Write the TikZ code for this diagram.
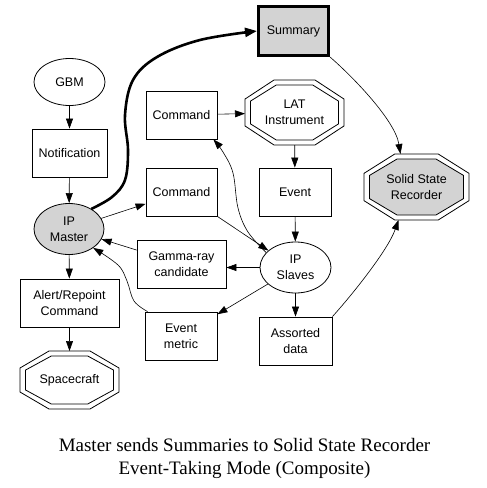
\documentclass[tikz,border=0pt]{standalone}
\usepackage{fontspec}
\setmainfont{Liberation Sans}
\newfontfamily\capfont{Liberation Serif}
\usetikzlibrary{arrows.meta,shapes.geometric,calc}
\definecolor{gv}{RGB}{211,211,211}
\newcommand\octdraw[2]{\draw[#1] ($(#2.west)!.414!(#2.north west)$) -- ($(#2.north)!.414!(#2.north west)$) -- ($(#2.north)!.414!(#2.north east)$) -- ($(#2.east)!.414!(#2.north east)$) -- ($(#2.east)!.414!(#2.south east)$) -- ($(#2.south)!.414!(#2.south east)$) -- ($(#2.south)!.414!(#2.south west)$) -- ($(#2.west)!.414!(#2.south west)$) -- cycle;}
\newcommand\octnode[6]{%
 \node[octbox, minimum width=#3, minimum height=#4] (#1) at (#2) {};
 \node[octbox, minimum width=#3-11, minimum height=#4-10] (#1-in) at (#2) {};
 \octdraw{line width=.8pt, fill=white}{#1}
 \octdraw{line width=.8pt, fill=#5}{#1-in}
 \node[nf, align=center, inner sep=0pt] (#1-t) at (#2) {#6};
}
\begin{document}
\begin{tikzpicture}[x=1pt,y=-1pt,
 nf/.style={font=\fontsize{12.5}{16}\selectfont},
 box/.style={draw, line width=.8pt, rectangle, inner sep=0pt, align=center, minimum height=48, nf},
 ell/.style={draw, line width=.8pt, ellipse, inner sep=0pt, align=center, nf},
 octbox/.style={rectangle, inner sep=0pt, outer sep=0pt, draw=none},
 arr/.style={line width=.6pt, -{Triangle[length=10pt,width=7pt]}},
 bigarr/.style={line width=2.6pt, -{Triangle[length=12pt,width=9pt]}},
 captext/.style={font=\capfont\fontsize{19}{24}\selectfont, anchor=base, inner sep=0pt}
]
\useasboundingbox[fill=white] (0,0) rectangle (487,488);

\node[ell, minimum width=71, minimum height=47] (gbm) at (69.5,82) {GBM};
\node[box, minimum width=75] (notif) at (69.5,153) {Notification};
\node[ell, fill=gv, minimum width=70, minimum height=51] (m) at (69,229) {IP\\Master};
\node[box, minimum width=99] (alert) at (69.5,303) {Alert/Repoint\\Command};
\octnode{sc}{69.5,380}{99}{58}{white}{Spacecraft}

\node[box, minimum width=70, minimum height=49, line width=3pt, fill=gv] (sum) at (293.5,31) {Summary};
\node[box, minimum width=71] (cmd1) at (181.5,115) {Command};
\node[box, minimum width=71] (cmd2) at (181.5,192) {Command};
\node[box, minimum width=89] (gam) at (181.5,264) {Gamma-ray\\candidate};
\node[box, minimum width=72] (em) at (181,336) {Event\\metric};

\octnode{lat}{294.5,112.5}{99}{65}{white}{LAT\\Instrument}
\node[box, minimum width=72] (ev) at (295,192) {Event};
\node[ell, minimum width=71, minimum height=51] (ips) at (295.5,267.5) {IP\\Slaves};
\node[box, minimum width=73] (ad) at (295.5,341) {Assorted\\data};
\octnode{ssr}{416.5,187}{105}{66}{gv}{Solid State\\Recorder}

\node[captext] (cap1) at (244.5,451) {Master sends Summaries to Solid State Recorder};
\node[captext] (cap2) at (244.5,474) {Event-Taking Mode (Composite)};

\draw[arr] (gbm) -- (notif);
\draw[arr] (notif) -- (m);
\draw[arr] (m) -- (alert);
\draw[arr] (alert) -- (sc);
\draw[arr] (m) -- (cmd2);
\draw[arr] (gam) -- (m);
\draw[arr] (ips.west) -- (gam.east |- ips.west);
\draw[arr] (ips) -- (em);
\draw[arr] (cmd2.south east) -- (ips.148);
\draw[arr] plot[smooth, tension=.6] coordinates {(ips.153) (248,232) (238,208) (233,173) (223,152) ($(cmd1.south east)+(-4,0)$)};
\draw[arr] (cmd1) -- (lat);
\draw[arr] (lat) -- (ev);
\draw[arr] (ev) -- (ips);
\draw[arr] (ips) -- (ad);
\draw[arr] (ad.north east) .. controls (352,295) and (388,250) .. ($(ssr.south)+(-18,0)$);
\draw[arr] (sum.south east) .. controls (352,76) and (395,120) .. ($(ssr.north)+(-16,0)$);
\draw[arr] plot[smooth, tension=.6] coordinates {($(em.north west)+(3,0)$) (134,301) (127,281) (118,265) (m.-38)};
\draw[bigarr] plot[smooth, tension=.6] coordinates {(m.42) (112,197) (125,180) (128,150) (125,115) (133,80) (157,57) (200,40) (sum.west)};
\end{tikzpicture}
\end{document}
